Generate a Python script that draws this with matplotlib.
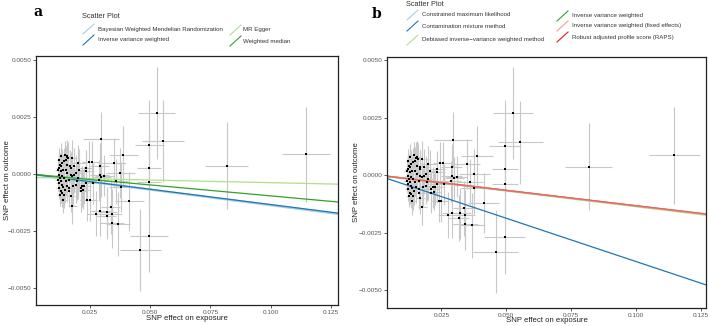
import matplotlib
matplotlib.use("Agg")
import matplotlib.pyplot as plt
import matplotlib.transforms as mtrans
from matplotlib.lines import Line2D

# ---------------- data ----------------
bx = [0.0155, 0.0158, 0.0148, 0.0141, 0.0134, 0.0124, 0.0130, 0.0120, 0.0138, 0.0148,
      0.0127, 0.0155, 0.0169, 0.0120, 0.0134, 0.0124, 0.0141, 0.0162, 0.0148, 0.0127,
      0.0120, 0.0134, 0.0152, 0.0176, 0.0183, 0.0190, 0.0200, 0.0194, 0.0180, 0.0162,
      0.0120, 0.0127, 0.0134, 0.0124, 0.0141, 0.0169, 0.0176, 0.0138, 0.0176, 0.0166,
      0.0144, 0.0152, 0.0122, 0.0130, 0.0183, 0.0169, 0.0204, 0.0218, 0.0211, 0.0190,
      0.0162, 0.0145, 0.0136, 0.0116, 0.0116, 0.0155,
      0.0295, 0.0387, 0.0350, 0.0376, 0.0377, 0.0413, 0.0336, 0.0341, 0.0322, 0.0318,
      0.0341, 0.0367, 0.0292, 0.0275, 0.0250, 0.0239, 0.0290, 0.0256, 0.0246, 0.0232,
      0.0232, 0.0200, 0.0309, 0.0297, 0.0285, 0.0289, 0.0260, 0.0225, 0.0211, 0.0220,
      0.0232, 0.0359,
      0.0526, 0.0554, 0.0495, 0.0495, 0.0495, 0.0494, 0.0459, 0.0818, 0.1147]
by = [0.00080, 0.00070, 0.00063, 0.00056, 0.00048, 0.00041, 0.00034, 0.00026, 0.00019, 0.00019,
      0.00012, 0.00004, -0.00003, -0.00003, -0.00010, -0.00018, -0.00018, -0.00025, -0.00032, -0.00032,
      -0.00039, -0.00047, -0.00051, -0.00010, -0.00003, 0.00004, -0.00018, -0.00032, -0.00054, -0.00061,
      -0.00061, -0.00076, -0.00083, -0.00091, -0.00091, -0.00098, -0.00139, -0.00113, 0.00070, 0.00037,
      0.00085, 0.00075, 0.00063, 0.00077, 0.00034, 0.00026, 0.00019, -0.00054, -0.00076, -0.00047,
      -0.00076, -0.00069, -0.00057, -0.00025, 0.00019, 0.00041,
      0.00154, 0.00082, 0.00048, 0.00004, -0.00058, -0.00120, -0.00145, -0.00174, -0.00167, -0.00186,
      -0.00215, -0.00219, -0.00164, -0.00174, -0.00115, -0.00115, 0.00037, 0.00053, 0.00053, 0.00026,
      0.00012, 0.00048, -0.00007, -0.00013, -0.00028, -0.00003, -0.00040, -0.00051, -0.00061, -0.00072,
      -0.00040, -0.00032,
      0.00268, 0.00143, 0.00127, 0.00026, -0.00037, -0.00270, -0.00333, 0.00037, 0.00086]
sx = [0.0015, 0.0016, 0.0014, 0.0013, 0.0012, 0.0011, 0.0012, 0.0010, 0.0013, 0.0014,
      0.0011, 0.0015, 0.0017, 0.0010, 0.0012, 0.0011, 0.0013, 0.0016, 0.0014, 0.0011,
      0.0010, 0.0012, 0.0015, 0.0018, 0.0019, 0.0020, 0.0021, 0.0020, 0.0018, 0.0016,
      0.0010, 0.0011, 0.0012, 0.0011, 0.0013, 0.0017, 0.0018, 0.0013, 0.0018, 0.0016,
      0.0014, 0.0015, 0.0010, 0.0012, 0.0019, 0.0017, 0.0022, 0.0025, 0.0023, 0.0020,
      0.0016, 0.0014, 0.0013, 0.0010, 0.0010, 0.0015,
      0.0073, 0.0060, 0.0050, 0.0060, 0.0050, 0.0060, 0.0040, 0.0040, 0.0040, 0.0040,
      0.0050, 0.0050, 0.0040, 0.0040, 0.0030, 0.0030, 0.0040, 0.0030, 0.0030, 0.0030,
      0.0030, 0.0030, 0.0040, 0.0040, 0.0040, 0.0040, 0.0030, 0.0030, 0.0030, 0.0030,
      0.0030, 0.0050,
      0.0077, 0.0087, 0.0060, 0.0050, 0.0050, 0.0080, 0.0087, 0.0090, 0.0098]
sy = [0.0007, 0.0007, 0.0006, 0.0006, 0.0006, 0.0005, 0.0006, 0.0005, 0.0006, 0.0007,
      0.0005, 0.0007, 0.0008, 0.0005, 0.0006, 0.0005, 0.0006, 0.0007, 0.0006, 0.0005,
      0.0005, 0.0006, 0.0007, 0.0008, 0.0008, 0.0008, 0.0009, 0.0008, 0.0008, 0.0007,
      0.0005, 0.0005, 0.0006, 0.0005, 0.0006, 0.0007, 0.0008, 0.0006, 0.0008, 0.0007,
      0.0006, 0.0007, 0.0005, 0.0006, 0.0008, 0.0007, 0.0009, 0.0009, 0.0009, 0.0008,
      0.0007, 0.0006, 0.0006, 0.0005, 0.0005, 0.0007,
      0.0012, 0.0013, 0.0011, 0.0011, 0.0011, 0.0013, 0.0012, 0.0011, 0.0011, 0.0010,
      0.0011, 0.0014, 0.0011, 0.0010, 0.0009, 0.0009, 0.0010, 0.0009, 0.0009, 0.0008,
      0.0008, 0.0008, 0.0009, 0.0009, 0.0009, 0.0009, 0.0009, 0.0008, 0.0008, 0.0008,
      0.0008, 0.0010,
      0.0020, 0.0018, 0.0020, 0.0020, 0.0019, 0.0016, 0.0018, 0.0019, 0.0021]

methods_a = ["Bayesian Weighted Mendelian Randomization", "Inverse variance weighted",
             "MR Egger", "Weighted median"]
slopes_a = [-0.0137, -0.0134, -0.0023, -0.0096]
inter_a = [0.0, 0.0, -0.00015, 0.0]
colors_a = ["#a6cee3", "#1f78b4", "#b2df8a", "#33a02c"]

methods_b = ["Constrained maximum likelihood", "Contamination mixture method",
             "Debiased inverse\u2212variance weighted method", "Inverse variance weighted",
             "Inverse variance weighted (fixed effects)", "Robust adjusted profile score (RAPS)"]
slopes_b = [-0.0135, -0.0376, -0.0137, -0.0134, -0.0134, -0.0133]
inter_b = [0.0, 0.0, 0.0, 0.0, 0.0, 0.0]
colors_b = ["#a6cee3", "#1f78b4", "#b2df8a", "#33a02c", "#fb9a99", "#e31a1c"]

xticks = [0.025, 0.050, 0.075, 0.100, 0.125]
xticklabels = ["0.025", "0.050", "0.075", "0.100", "0.125"]
yticks = [-0.005, -0.0025, 0.0, 0.0025, 0.005]
yticklabels = ["\u22120.0050", "\u22120.0025", "0.0000", "0.0025", "0.0050"]

# ---------------- figure ----------------
W, H = 709, 326
plt.rcParams['font.family'] = ['Liberation Sans', 'DejaVu Sans']
fig = plt.figure(figsize=(W / 100, H / 100), dpi=100)


def fx(px):
    return px / W


def fy(py):
    return 1 - py / H


def make_axes(x0, x1, y0, y1):
    return fig.add_axes([fx(x0), fy(y1), fx(x1) - fx(x0), fy(y0) - fy(y1)])


def draw_panel(ax, slopes, inters, colors, lws, alphas, xlim, ylim, xlab_py, ylab_px):
    ax.errorbar(bx, by, xerr=sx, yerr=sy, fmt='none', ecolor='#c8c8c8',
                elinewidth=0.8, capsize=0, zorder=1)
    ax.scatter(bx, by, s=3.5, c='black', marker='s', linewidths=0, zorder=3)
    for s, b, c, lw, a in zip(slopes, inters, colors, lws, alphas):
        ax.axline((0, b), slope=s, color=c, lw=lw, alpha=a, zorder=2)
    ax.set_xlim(*xlim)
    ax.set_ylim(*ylim)
    ax.set_xticks(xticks)
    ax.set_xticklabels(xticklabels)
    ax.set_yticks(yticks)
    ax.set_yticklabels(yticklabels)
    ax.tick_params(labelsize=4.6, labelcolor='#555555', color='#444444',
                   length=2, width=0.6, pad=1.5)
    for sp in ax.spines.values():
        sp.set_linewidth(0.9)
        sp.set_color('#222222')
    ax.set_xlabel("SNP effect on exposure", fontsize=5.6, color='#222222')
    ax.set_ylabel("SNP effect on outcome", fontsize=5.6, color='#222222')
    ax.xaxis.set_label_coords(0.5, fy(xlab_py),
                              transform=mtrans.blended_transform_factory(ax.transAxes, fig.transFigure))
    ax.xaxis.label.set_va('center')
    ax.yaxis.set_label_coords(fx(ylab_px), 0.5,
                              transform=mtrans.blended_transform_factory(fig.transFigure, ax.transAxes))
    ax.yaxis.label.set_va('center')


axa = make_axes(36, 338, 56, 305)
draw_panel(axa, slopes_a, inter_a, colors_a, [1.6, 0.9, 0.9, 0.9], [1, 1, 1, 1],
           (0.0025, 0.128), (-0.00575, 0.00518), 318, 8)

axb = make_axes(387, 706, 57, 308)
draw_panel(axb, slopes_b, inter_b, colors_b, [1.2, 0.9, 1.2, 0.9, 1.2, 0.9],
           [1, 1, 1, 1, 1, 0.45], (0.004, 0.127), (-0.00578, 0.00513), 321, 357)

# panel letters
fig.text(fx(38), fy(12), "a", fontsize=10, fontweight='bold', family='DejaVu Serif',
         ha='center', va='center')
fig.text(fx(377), fy(14), "b", fontsize=10, fontweight='bold', family='DejaVu Serif',
         ha='center', va='center')


def legend_entry(kx, ky, label, color, tx):
    fig.add_artist(Line2D([fx(kx), fx(kx + 11)], [fy(ky + 5), fy(ky - 5)],
                          color=color, lw=0.8, transform=fig.transFigure))
    fig.text(fx(tx), fy(ky), label, fontsize=4.4, color='#333333', va='center', ha='left')


# legend a
fig.text(fx(82), fy(17), "Scatter Plot", fontsize=5.3, color='#333333', va='center', ha='left')
legend_entry(83, 29, methods_a[0], colors_a[0], 98)
legend_entry(83, 40, methods_a[1], colors_a[1], 98)
legend_entry(230, 30, methods_a[2], colors_a[2], 243)
legend_entry(230, 41, methods_a[3], colors_a[3], 243)

# legend b
fig.text(fx(406), fy(5), "Scatter Plot", fontsize=5.3, color='#333333', va='center', ha='left')
legend_entry(407, 15, methods_b[0], colors_b[0], 422)
legend_entry(407, 26, methods_b[1], colors_b[1], 422)
legend_entry(407, 40, methods_b[2], colors_b[2], 422)
legend_entry(557, 16, methods_b[3], colors_b[3], 572)
legend_entry(557, 26, methods_b[4], colors_b[4], 572)
legend_entry(557, 37, methods_b[5], colors_b[5], 572)

fig.savefig("out.png", dpi=100)
